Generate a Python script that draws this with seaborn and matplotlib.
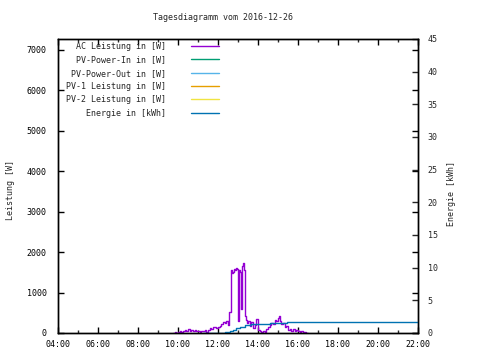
import matplotlib
matplotlib.use("Agg")
import matplotlib.pyplot as plt
import pandas as pd
import seaborn as sns

# AC power (time of day, watts)
ac_times = ["09:45", "09:50", "09:55", "10:00", "10:05", "10:10", "10:15", "10:20", "10:25", "10:30",
            "10:35", "10:40", "10:45", "10:50", "10:55", "11:00", "11:05", "11:10", "11:15", "11:20",
            "11:25", "11:30", "11:35", "11:40", "11:45", "11:50", "11:55", "12:00", "12:05", "12:10",
            "12:15", "12:20", "12:25", "12:30", "12:33", "12:36", "12:39", "12:42", "12:45", "12:48",
            "12:51", "12:54", "12:57", "13:00", "13:03", "13:06", "13:09", "13:12", "13:15", "13:18",
            "13:21", "13:24", "13:27", "13:30", "13:35", "13:40", "13:45", "13:50", "13:55", "14:00",
            "14:05", "14:10", "14:15", "14:20", "14:25", "14:30", "14:35", "14:40", "14:45", "14:50",
            "14:55", "15:00", "15:03", "15:06", "15:10", "15:15", "15:20", "15:25", "15:30", "15:35",
            "15:40", "15:45", "15:50", "15:55", "16:00", "16:05", "16:10", "16:15", "16:20", "16:25",
            "16:30"]
ac_watts = [5, 20, 10, 30, 60, 25, 40, 70, 50, 90,
            60, 80, 50, 70, 45, 60, 30, 50, 40, 70,
            30, 80, 120, 100, 140, 150, 130, 160, 170, 220,
            260, 240, 290, 200, 530, 520, 1560, 1480, 1520, 1590,
            1560, 1600, 1580, 300, 1550, 1520, 600, 1650, 1720, 1550,
            430, 330, 250, 290, 180, 260, 120, 200, 340, 80,
            50, 30, 60, 20, 90, 150, 200, 250, 230, 320,
            300, 360, 420, 300, 220, 250, 150, 180, 80, 110,
            60, 90, 40, 70, 50, 30, 50, 20, 30, 10,
            0]

# daily energy (kWh)
energy_times = ["11:15", "12:00", "12:20", "12:35", "12:45", "12:55", "13:05", "13:20",
                "13:40", "14:05", "14:35", "15:00", "15:26", "22:00"]
energy_kwh = [0.02, 0.05, 0.15, 0.3, 0.46, 0.72, 0.97, 1.22,
              1.33, 1.38, 1.48, 1.53, 1.66, 1.66]

# series without any values on this day
pv_in_times, pv_in_watts = [], []
pv_out_times, pv_out_watts = [], []
pv1_times, pv1_watts = [], []
pv2_times, pv2_watts = [], []


def to_hours(times):
    return [int(t[:2]) + int(t[3:]) / 60 for t in times]


ac = pd.DataFrame({"h": to_hours(ac_times), "w": ac_watts})
en = pd.DataFrame({"h": to_hours(energy_times), "kwh": energy_kwh})

sns.set_style("ticks")
plt.rcParams["font.family"] = ["DejaVu Sans Mono"]
plt.rcParams["font.size"] = 6

fig = plt.figure(figsize=(4.8, 3.6), dpi=100)
ax = fig.add_axes([58 / 480, 27 / 360, 360 / 480, 294 / 360])
ax2 = ax.twinx()

sns.lineplot(data=ac, x="h", y="w", ax=ax, color="#9400d3", lw=1,
             drawstyle="steps-post", label="AC Leistung in [W]", legend=False)
ax.plot(to_hours(pv_in_times), pv_in_watts, color="#009e73", lw=1, label="PV-Power-In in [W]")
ax.plot(to_hours(pv_out_times), pv_out_watts, color="#56b4e9", lw=1, label="PV-Power-Out in [W]")
ax.plot(to_hours(pv1_times), pv1_watts, color="#e69f00", lw=1, label="PV-1 Leistung in [W]")
ax.plot(to_hours(pv2_times), pv2_watts, color="#f0e442", lw=1, label="PV-2 Leistung in [W]")
sns.lineplot(data=en, x="h", y="kwh", ax=ax2, color="#0072b2", lw=1,
             drawstyle="steps-post", label="Energie in [kWh]", legend=False)

ax.set_xlim(4, 22)
ax.set_ylim(0, 7270)
ax2.set_ylim(0, 45)

ax.set_xticks(range(4, 23, 2))
ax.set_xticklabels(["%02d:00" % h for h in range(4, 23, 2)])
ax.set_xticks(range(5, 23, 2), minor=True)
ax.set_yticks(range(0, 7001, 1000))
ax2.set_yticks(range(0, 46, 5))

ax.tick_params(axis="both", which="major", direction="in", length=4, width=1,
               top=True, right=True, colors="black", labelsize=6)
ax.tick_params(axis="x", which="major", pad=5)
ax.tick_params(axis="y", which="major", pad=8)
ax.tick_params(axis="x", which="minor", direction="in", length=2, width=1, top=True)
ax2.tick_params(axis="y", direction="in", length=4, width=1, pad=7, labelsize=6)

for a in (ax, ax2):
    for s in a.spines.values():
        s.set_visible(True)
        s.set_linewidth(1)
        s.set_color("black")

ax.set_xlabel("")
ax.set_ylabel("")
ax2.set_ylabel("")
fig.text(11 / 480, 1 - 190 / 360, "Leistung [W]", rotation=90, ha="center", va="center")
fig.text(452 / 480, 1 - 194 / 360, "Energie [kWh]", rotation=90, ha="center", va="center")
fig.text(223 / 480, 1 - 18 / 360, "Tagesdiagramm vom 2016-12-26", ha="center", va="center")

h1, l1 = ax.get_legend_handles_labels()
h2, l2 = ax2.get_legend_handles_labels()
ax2.legend(h1 + h2, l1 + l2, loc="upper right", bbox_to_anchor=(219 / 480, 1 - 42 / 360),
           bbox_transform=fig.transFigure, frameon=False, markerfirst=False,
           handlelength=3.4, handletextpad=3.0, labelspacing=0.52, borderpad=0,
           borderaxespad=0, fontsize=6)

fig.savefig("out.png", dpi=100)
